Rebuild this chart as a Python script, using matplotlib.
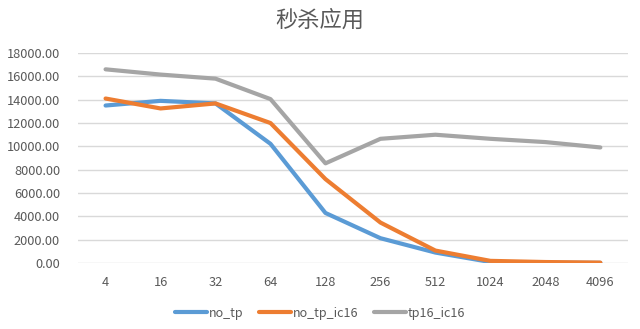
import matplotlib.pyplot as plt
import numpy as np

plt.rcParams["font.family"] = ["Noto Sans CJK SC", "DejaVu Sans"]

categories = ["4", "16", "32", "64", "128", "256", "512", "1024", "2048", "4096"]
no_tp = [13500, 13900, 13680, 10220, 4300, 2140, 910, 100, 50, 30]
no_tp_ic16 = [14100, 13250, 13680, 12000, 7200, 3480, 1080, 200, 100, 50]
tp16_ic16 = [16600, 16150, 15800, 14050, 8550, 10650, 11000, 10650, 10370, 9910]

series = [
    ("no_tp", no_tp, "#5B9BD5"),
    ("no_tp_ic16", no_tp_ic16, "#ED7D31"),
    ("tp16_ic16", tp16_ic16, "#A5A5A5"),
]

text_color = "#595959"

fig = plt.figure(figsize=(6.4, 3.29), dpi=100)
ax = fig.add_axes([0.122, 0.2, 0.859, 0.639])

x = np.arange(len(categories))
for name, values, color in series:
    ax.plot(x, values, color=color, linewidth=3, label=name, solid_capstyle="round")

ax.set_xlim(-0.5, len(categories) - 0.5)
ax.set_ylim(0, 18000)
ax.set_yticks(np.arange(0, 18001, 2000))
ax.set_yticklabels([f"{v:.2f}" for v in np.arange(0, 18001, 2000)])
ax.set_xticks(x)
ax.set_xticklabels(categories)

ax.grid(axis="y", color="#D9D9D9", linewidth=1)
ax.set_axisbelow(True)
for spine in ax.spines.values():
    spine.set_visible(False)
ax.tick_params(axis="both", length=0, colors=text_color, labelsize=9.2)
ax.tick_params(axis="y", pad=13)
ax.tick_params(axis="x", pad=9)

fig.text(0.5, 0.94, "秒杀应用", ha="center", va="center", fontsize=16, color=text_color)

fig.legend(loc="center", bbox_to_anchor=(0.5, 0.048), ncol=3, frameon=False,
           fontsize=9, labelcolor=text_color, handlelength=2.6, handletextpad=0.15,
           columnspacing=1.2)

fig.savefig("out.png", dpi=100)
